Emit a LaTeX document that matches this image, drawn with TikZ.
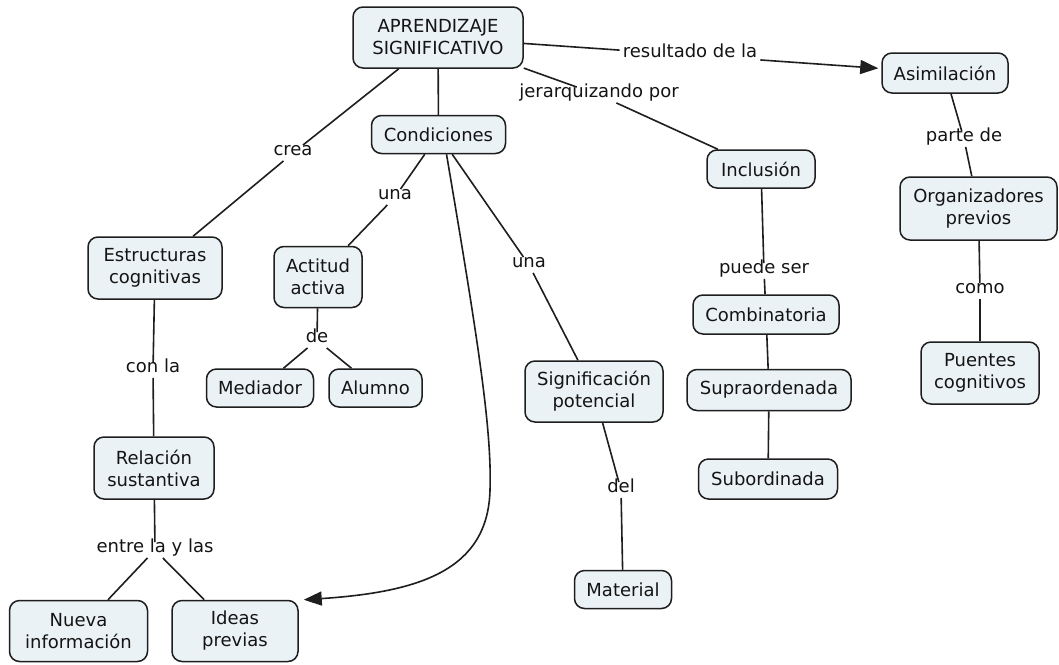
\documentclass[tikz,border=0pt]{standalone}
\usepackage{fontspec}
\setmainfont{DejaVu Sans}
\usetikzlibrary{arrows.meta}
\definecolor{boxfill}{RGB}{235,242,245}
\definecolor{boxline}{RGB}{30,30,30}
\definecolor{txt}{RGB}{20,20,20}
\begin{document}
\begin{tikzpicture}[x=1pt,y=-1pt,
  font=\fontsize{18}{22}\selectfont,
  concept/.style={draw=boxline, fill=boxfill, line width=1.5pt, rounded corners=10pt,
    align=center, inner sep=0pt, text=txt},
  linklabel/.style={inner sep=3pt, text=txt, text height=0.75em, text depth=0.2em},
  conn/.style={line width=1.6pt, draw=boxline},
  arrowconn/.style={conn, -{Triangle[length=18pt,width=14pt]}}
]
\useasboundingbox (0,0) rectangle (1059,664);
\fill[white] (0,0) rectangle (1059,664);

% concepts
\node[concept, minimum width=170pt, minimum height=61pt] (ap) at (438,37.5) {APRENDIZAJE\\SIGNIFICATIVO};
\node[concept, minimum width=134pt, minimum height=38pt] (cond) at (438.5,134.5) {Condiciones};
\node[concept, minimum width=126pt, minimum height=40pt] (asim) at (945,73) {Asimilación};
\node[concept, minimum width=108pt, minimum height=38pt] (incl) at (761,169) {Inclusión};
\node[concept, minimum width=157pt, minimum height=63pt] (org) at (978.5,208.5) {Organizadores\\previos};
\node[concept, minimum width=118pt, minimum height=62pt] (puen) at (980,373) {Puentes\\cognitivos};
\node[concept, minimum width=134pt, minimum height=62pt] (estr) at (155,268) {Estructuras\\cognitivas};
\node[concept, minimum width=88pt, minimum height=61pt] (act) at (318,277) {Actitud\\activa};
\node[concept, minimum width=107pt, minimum height=38pt] (med) at (260,388) {Mediador};
\node[concept, minimum width=93pt, minimum height=38pt] (alum) at (375.5,388) {Alumno};
\node[concept, minimum width=138pt, minimum height=61pt] (sig) at (594,391.5) {Significación\\potencial};
\node[concept, minimum width=146pt, minimum height=39pt] (comb) at (766,314.5) {Combinatoria};
\node[concept, minimum width=164pt, minimum height=41pt] (supra) at (769,390) {Supraordenada};
\node[concept, minimum width=139pt, minimum height=40pt] (sub) at (768,479) {Subordinada};
\node[concept, minimum width=120pt, minimum height=62pt] (rel) at (154,468) {Relación\\sustantiva};
\node[concept, minimum width=138pt, minimum height=61pt] (nueva) at (78.5,631) {Nueva\\información};
\node[concept, minimum width=126pt, minimum height=61pt] (ideas) at (235,631) {Ideas\\previas};
\node[concept, minimum width=97pt, minimum height=38pt] (mat) at (623,589.5) {Material};

% link labels
\node[linklabel] (crea) at (293,153) {crea};
\node[linklabel] (una1) at (395,197) {una};
\node[linklabel] (una2) at (529,265) {una};
\node[linklabel] (de) at (317,340) {de};
\node[linklabel] (conla) at (153,370) {con la};
\node[linklabel] (entre) at (155,550) {entre la y las};
\node[linklabel] (del) at (621,490) {del};
\node[linklabel] (parte) at (964,139) {parte de};
\node[linklabel] (como) at (980,291) {como};
\node[linklabel] (result) at (690,55) {resultado de la};
\node[linklabel] (jerar) at (599,95) {jerarquizando por};
\node[linklabel] (puede) at (764,271) {puede ser};

% connectors
\draw[conn] (ap) -- (crea);
\draw[conn] (crea) -- (estr);
\draw[conn] (ap) -- (cond);
\draw[conn] (ap) -- (result);
\draw[arrowconn, shorten >=3pt] (result) -- (asim);
\draw[conn] (ap) -- (jerar);
\draw[conn] (jerar) -- (incl);
\draw[conn] (cond) -- (una1);
\draw[conn] (una1) -- (act);
\draw[conn] (cond) -- (una2);
\draw[conn] (una2) -- (sig);
\draw[arrowconn] ([xshift=8pt]cond.south) .. controls (478,340) and (492,430) .. (490,490)
   .. controls (488,570) and (420,592) .. ([xshift=5pt]ideas.north east);
\draw[conn] (act) -- (de);
\draw[conn] (de) -- (med);
\draw[conn] (de) -- (alum);
\draw[conn] (estr) -- (conla);
\draw[conn] (conla) -- (rel);
\draw[conn] (rel) -- (entre);
\draw[conn] (entre) -- (nueva);
\draw[conn] (entre) -- (ideas);
\draw[conn] (sig) -- (del);
\draw[conn] (del) -- (mat);
\draw[conn] (asim) -- (parte);
\draw[conn] (parte) -- (org);
\draw[conn] (org) -- (como);
\draw[conn] (como) -- (puen);
\draw[conn] (incl) -- (puede);
\draw[conn] (puede) -- (comb);
\draw[conn] (comb) -- (supra);
\draw[conn] (supra) -- (sub);
\end{tikzpicture}
\end{document}
